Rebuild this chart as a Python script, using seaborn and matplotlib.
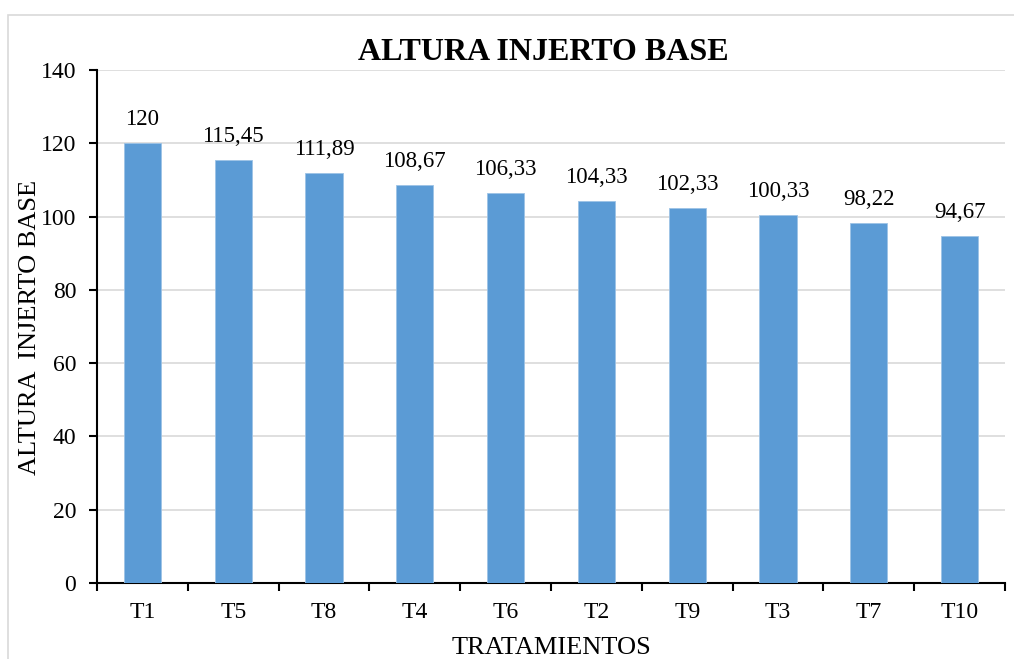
import matplotlib
matplotlib.use("Agg")
import matplotlib.pyplot as plt
import seaborn as sns
import pandas as pd
from matplotlib.patches import Rectangle

categories = ["T1", "T5", "T8", "T4", "T6", "T2", "T9", "T3", "T7", "T10"]
values = [120, 115.45, 111.89, 108.67, 106.33, 104.33, 102.33, 100.33, 98.22, 94.67]
yticks = [0, 20, 40, 60, 80, 100, 120, 140]

sns.set_theme(style="white")
plt.rcParams["font.family"] = ["Liberation Serif", "DejaVu Serif"]

df = pd.DataFrame({"cat": categories, "val": values})

fig = plt.figure(figsize=(10.14, 6.59), dpi=100)
W, H = 1014, 659
ax = fig.add_axes([97 / W, 1 - 583 / H, (1005 - 97) / W, (583 - 70) / H])

sns.barplot(data=df, x="cat", y="val", color="#5B9BD5", saturation=1,
            width=0.41, ax=ax, zorder=3, edgecolor="#9DC3E6", linewidth=0.6)

ax.set_ylim(0, 140)
ax.set_xlim(-0.5, len(categories) - 0.5)
ax.set_yticks(yticks)
ax.yaxis.grid(True, color="#D9D9D9", linewidth=1.2, zorder=0)
ax.set_axisbelow(True)

for s in ["top", "right"]:
    ax.spines[s].set_visible(False)
for s in ["left", "bottom"]:
    ax.spines[s].set_color("black")
    ax.spines[s].set_linewidth(1.5)

ax.tick_params(axis="y", which="major", length=6, width=1.5, color="black",
               left=True, labelsize=17, pad=9, labelcolor="black")
ax.set_xticks(range(len(categories)))
ax.set_xticklabels(categories)
ax.tick_params(axis="x", which="major", length=0, labelsize=17, pad=14,
               labelcolor="black")
# boundary ticks on the x axis
ax.set_xticks([i - 0.5 for i in range(len(categories) + 1)], minor=True)
ax.tick_params(axis="x", which="minor", length=6, width=1.5, color="black",
               bottom=True)

labels = [f"{v:g}".replace(".", ",") for v in values]
ax.bar_label(ax.containers[0], labels=labels, padding=9.5, fontsize=16.5,
             color="black")

ax.set_xlabel("TRATAMIENTOS", fontsize=19, color="black")
ax.set_ylabel("ALTURA  INJERTO BASE", fontsize=19, color="black")
ax.xaxis.set_label_coords(0.501, -0.127)
ax.yaxis.set_label_coords(-0.0738, 0.499)
ax.xaxis.label.set_va("center")
ax.yaxis.label.set_va("center")

fig.text(543 / W, 1 - 52 / H, "ALTURA INJERTO BASE", ha="center", va="center",
         fontsize=23, fontweight="bold", color="black")

fig.patches.append(Rectangle((8 / W, -0.1), 1.2, 1 - 15 / H + 0.1,
                             transform=fig.transFigure, fill=False,
                             edgecolor="#D9D9D9", linewidth=1.2))

fig.savefig("out.png", dpi=100)
